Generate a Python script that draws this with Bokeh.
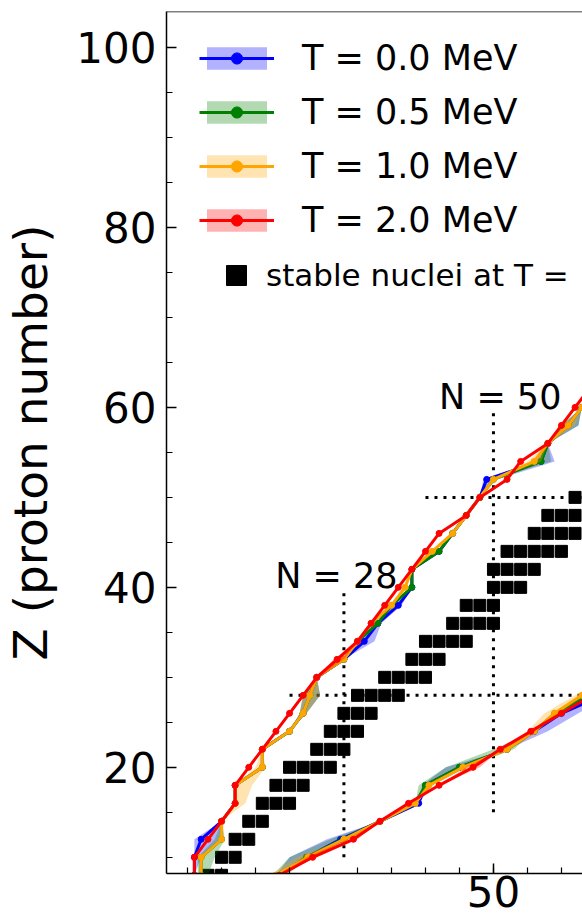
from bokeh.plotting import figure
from bokeh.models import Range1d, SingleIntervalTicker, Legend, LegendItem, Label, Span
from bokeh.embed import file_html
from bokeh.resources import INLINE

# ---------------- data ----------------
TEMP_LABELS = ["T = 0.0 MeV", "T = 0.5 MeV", "T = 1.0 MeV", "T = 2.0 MeV"]
TEMP_COLORS = ["#0000ff", "#008000", "#ffa500", "#ff0000"]

# proton drip line (N at each even Z)
Z_PROTON = [8, 10, 12, 14, 16, 18, 20, 22, 24, 26, 28, 30, 32, 34, 36, 38, 40, 42, 44, 46, 48, 50, 52, 54, 56, 58, 60, 62]
N_P_T00 = [6, 6, 7, 10, 12, 12, 16, 16, 20, 22, 23, 24, 28, 31, 33, 36, 38, 38, 42, 44, 46, 48, 49, 57, 58, 61, 63, 65]
N_P_T05 = [7, 7, 10, 10, 12, 12, 16, 16, 20, 22, 23, 24, 28, 30, 33, 35, 38, 38, 42, 44, 46, 48, 50, 57, 58, 61, 63, 65]
N_P_T10 = [7, 7, 10, 10, 12, 12, 16, 16, 20, 22, 23, 24, 28, 30, 32, 35, 37, 38, 41, 44, 46, 48, 50, 56, 58, 61, 63, 65]
N_P_T20 = [6, 6, 8, 10, 12, 12, 14, 16, 18, 20, 22, 24, 27, 30, 32, 34, 36, 38, 40, 42, 46, 48, 52, 54, 58, 60, 62, 64]
# uncertainty bands (lower / upper N)
N_P_T00_LO = [6, 6, 6, 10, 12, 12, 16, 16, 20, 21.5, 22, 24, 28, 30, 32, 35, 38, 38, 42, 44, 46, 48, 48.5, 56, 58, 60, 63, 65]
N_P_T00_HI = [6, 7, 10, 10, 12, 12, 16, 16, 20, 22.5, 24.5, 24, 28, 32.5, 33.5, 36.5, 38, 38, 42, 44, 46, 48, 50.5, 59, 58, 62.5, 63, 65]
N_P_T05_LO = [6.5, 6.5, 9, 10, 12, 12, 16, 16, 20, 21.5, 22, 24, 28, 30, 33, 35, 38, 38, 42, 44, 46, 48, 50, 56, 58, 60, 63, 65]
N_P_T05_HI = [8, 9, 10.5, 10, 12, 12, 16, 16, 20, 22.5, 24.5, 24, 28, 30, 33, 35, 38, 38, 42, 44, 46, 48, 50, 58.5, 58, 62.5, 63, 65]
N_P_T10_LO = [7, 7, 10, 10, 12, 12, 15, 16, 20, 21.5, 22, 24, 28, 30, 32, 35, 37, 38, 41, 44, 46, 48, 50, 55, 58, 60, 63, 65]
N_P_T10_HI = [7, 7, 10, 10, 13.5, 14.5, 16.5, 16, 20, 22.5, 24.5, 24, 28, 30, 32, 35, 37, 38, 41, 44, 46, 48, 50, 57, 58, 62, 63, 65]
N_P_T20_LO = [6, 6, 8, 10, 12, 12, 14, 16, 18, 20, 22, 24, 26.5, 30, 32, 34, 36, 38, 40, 42, 46, 48, 52, 54, 58, 60, 62, 64]
N_P_T20_HI = [6, 6, 8, 10, 12, 12, 14, 16, 18, 20, 22, 24.5, 28, 30, 32, 34, 36, 38, 40, 42, 46, 48, 52, 54, 58, 60, 62, 64]

# neutron drip line (N at each even Z)
Z_NEUTRON = [6, 8, 10, 12, 14, 16, 18, 20, 22, 24, 26, 28, 30]
N_N_T00 = [15, 18.5, 22.5, 27.5, 33.3, 39, 40, 45, 52, 56, 60, 66, 70]
N_N_T05 = [15, 18.5, 22.5, 28, 33.3, 38.5, 40, 45, 52, 56, 59, 64, 69]
N_N_T10 = [15, 18, 22.7, 28, 33.3, 38.5, 40.5, 45.5, 52, 56, 59, 63, 68]
N_N_T20 = [15, 18.5, 23.4, 29.4, 33.3, 37.5, 42, 47, 51, 55.5, 60, 64.5, 69]
N_N_T00_LO = [15, 18, 20, 25.5, 33.3, 39, 39.5, 43, 52, 56, 60, 65, 70]
N_N_T00_HI = [15, 19, 22.5, 27.5, 33.3, 39, 41, 46, 52, 58, 62.5, 67, 70]
N_N_T05_LO = [15, 17.5, 20, 26, 33.3, 38.5, 39, 43, 50, 56, 59, 64, 69]
N_N_T05_HI = [15, 19.5, 23, 28, 33.3, 38.5, 41, 46, 53, 56, 59, 64, 69]
N_N_T10_LO = [15, 17, 21, 28, 33.3, 38.5, 40.5, 45.5, 51.5, 55, 57.5, 62, 68]
N_N_T10_HI = [15, 18.5, 23, 28, 33.3, 38.5, 40.5, 45.5, 52.5, 56.5, 59.5, 63.5, 68]
N_N_T20_LO = [15, 18.5, 22.5, 28.5, 33.3, 37.5, 42, 46, 51, 55.5, 60, 64.5, 69]
N_N_T20_HI = [15, 18.5, 24, 30, 33.3, 37.5, 42, 48, 51, 55.5, 60, 64.5, 69]

# stable even-even nuclei at T = 0
STABLE_Z = [8, 8, 10, 10, 12, 12, 14, 14, 16, 16, 16, 18, 18, 18,
            20, 20, 20, 20, 22, 22, 22, 24, 24, 24, 26, 26, 26,
            28, 28, 28, 28, 30, 30, 30, 30, 32, 32, 32,
            34, 34, 34, 34, 36, 36, 36, 36, 38, 38, 38,
            40, 40, 40, 42, 42, 42, 42, 44, 44, 44, 44, 44,
            46, 46, 46, 46, 46, 48, 48, 48, 48, 48,
            50, 50, 50, 50, 50, 50, 50]
STABLE_N = [8, 10, 10, 12, 12, 14, 14, 16, 16, 18, 20, 18, 20, 22,
            20, 22, 24, 26, 24, 26, 28, 26, 28, 30, 28, 30, 32,
            30, 32, 34, 36, 34, 36, 38, 40, 38, 40, 42,
            40, 42, 44, 46, 44, 46, 48, 50, 46, 48, 50,
            50, 52, 54, 50, 52, 54, 56, 52, 54, 56, 58, 60,
            56, 58, 60, 62, 64, 58, 60, 62, 64, 66,
            62, 64, 66, 68, 70, 72, 74]

# magic numbers and their guide lines
MAGIC = [28, 50]
MAGIC_LABELS = ["N = 28", "N = 50"]
VLINE_Z_LO = [10, 15]
VLINE_Z_HI = [40, 60]
HLINE_N_LO = [20, 40]
HLINE_N_HI = [90, 110]

P_SERIES = [(N_P_T00, N_P_T00_LO, N_P_T00_HI), (N_P_T05, N_P_T05_LO, N_P_T05_HI),
            (N_P_T10, N_P_T10_LO, N_P_T10_HI), (N_P_T20, N_P_T20_LO, N_P_T20_HI)]
N_SERIES = [(N_N_T00, N_N_T00_LO, N_N_T00_HI), (N_N_T05, N_N_T05_LO, N_N_T05_HI),
            (N_N_T10, N_N_T10_LO, N_N_T10_HI), (N_N_T20, N_N_T20_LO, N_N_T20_HI)]

# ---------------- figure ----------------
FONT = "DejaVu Sans"
p = figure(width=582, height=920, output_backend="svg", toolbar_location=None,
           x_range=Range1d(1.9, 63.1), y_range=Range1d(8.2, 104.0),
           min_border_left=0, min_border_right=0, min_border_top=11, min_border_bottom=47,
           background_fill_color="white", border_fill_color="white")
p.outline_line_color = None
p.grid.visible = False

p.add_layout(Span(location=104.0, dimension="width", line_color="black", line_width=1.5))

# guide lines
p.segment(x0=MAGIC, y0=VLINE_Z_LO, x1=MAGIC, y1=VLINE_Z_HI,
          line_color="black", line_width=3, line_dash="3 6")
p.segment(x0=HLINE_N_LO, y0=MAGIC, x1=HLINE_N_HI, y1=MAGIC,
          line_color="black", line_width=3, line_dash="3 6")

# stable nuclei
stable_r = p.scatter(x=STABLE_N, y=STABLE_Z, marker="square", size=12,
                     fill_color="black", line_color="black")

items = []
for i in range(4):
    c = TEMP_COLORS[i]
    pn, plo, phi = P_SERIES[i]
    nn, nlo, nhi = N_SERIES[i]
    band = p.harea(x1=plo, x2=phi, y=Z_PROTON, fill_color=c, fill_alpha=0.3)
    p.harea(x1=nlo, x2=nhi, y=Z_NEUTRON, fill_color=c, fill_alpha=0.3)
    ln = p.line(x=pn, y=Z_PROTON, line_color=c, line_width=3)
    p.line(x=nn, y=Z_NEUTRON, line_color=c, line_width=3)
    dots = p.scatter(x=pn, y=Z_PROTON, size=6, fill_color=c, line_color=c)
    p.scatter(x=nn, y=Z_NEUTRON, size=6, fill_color=c, line_color=c)
    items.append(LegendItem(label=TEMP_LABELS[i], renderers=[band, ln, dots]))

for m, lab, lx, ly in zip(MAGIC, MAGIC_LABELS, [-1.1, 1.0], [13.3, 11.2]):
    p.add_layout(Label(x=m + lx, y=m + ly, text=lab, text_align="center",
                       text_baseline="alphabetic", text_font=FONT,
                       text_font_size="35px", text_color="black"))

leg1 = Legend(items=items, location=(33, 633), padding=0, margin=0, spacing=14,
              glyph_width=75, glyph_height=28, label_standoff=28,
              label_text_font=FONT, label_text_font_size="35px", label_text_color="black",
              border_line_color=None, background_fill_alpha=0)
leg2 = Legend(items=[LegendItem(label="stable nuclei at T =", renderers=[stable_r])],
              location=(45, 573), padding=0, margin=0,
              glyph_width=50, glyph_height=50, label_standoff=5,
              label_text_font=FONT, label_text_font_size="31px", label_text_color="black",
              border_line_color=None, background_fill_alpha=0)
p.add_layout(leg1)
p.add_layout(leg2)

# axes
for ax in (p.xaxis[0], p.yaxis[0]):
    ax.axis_line_width = 1.5
    ax.major_tick_in = 10
    ax.major_tick_out = 0
    ax.minor_tick_in = 6
    ax.minor_tick_out = 0
    ax.major_tick_line_width = 1.5
    ax.minor_tick_line_width = 1.2
    ax.major_label_text_font = FONT
    ax.major_label_text_font_size = "42px"
    ax.major_label_text_color = "black"

p.yaxis.ticker = SingleIntervalTicker(interval=20, num_minor_ticks=4)
p.xaxis.ticker = SingleIntervalTicker(interval=50, num_minor_ticks=10)
p.yaxis.major_label_standoff = 10
p.xaxis.major_label_standoff = 2
p.yaxis.axis_label = "Z (proton number)"
p.yaxis.axis_label_text_font = FONT
p.yaxis.axis_label_text_font_size = "47px"
p.yaxis.axis_label_text_font_style = "normal"
p.yaxis.axis_label_text_color = "black"
p.yaxis.axis_label_standoff = 15

open("out.html", "w").write(file_html(p, INLINE))
